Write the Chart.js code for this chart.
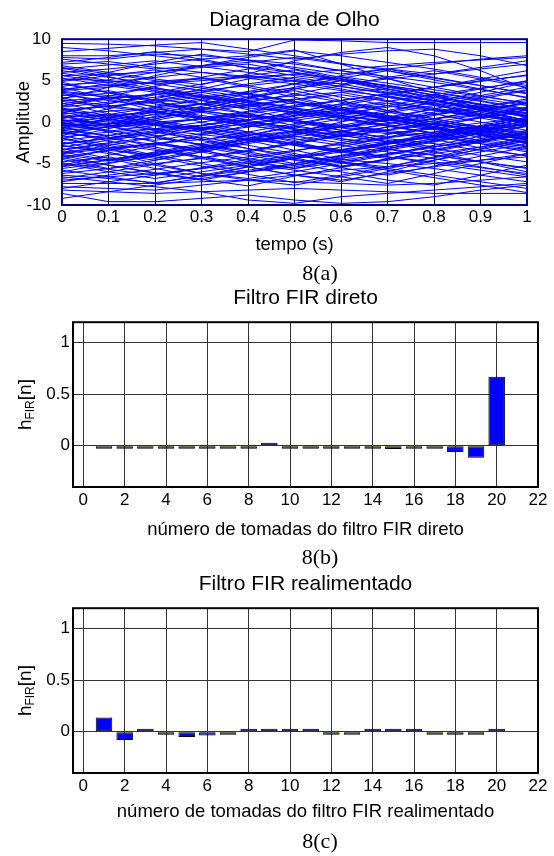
<!DOCTYPE html>
<html>
<head>
<meta charset="utf-8">
<script src="https://cdn.jsdelivr.net/npm/chart.js@4.4.0/dist/chart.umd.min.js"></script>
<style>
  body { margin: 0; background: #fff; }
  #pagina { position: relative; width: 554px; height: 856px; overflow: hidden; }
  canvas { position: absolute; left: 0; }
  .legenda {
    position: absolute; left: 320px; transform: translateX(-50%);
    font-family: 'Liberation Serif', 'Times New Roman', serif;
    font-size: 22px; line-height: 22px; color: #000; white-space: nowrap;
  }
</style>
</head>
<body>
<div id="pagina">
  <canvas id="gOlho" width="554" height="262" style="top:0px"></canvas>
  <canvas id="gDireto" width="554" height="268" style="top:280px"></canvas>
  <canvas id="gRealimentado" width="554" height="267" style="top:563px"></canvas>
  <div class="legenda" style="top:262px">8(a)</div>
  <div class="legenda" style="top:546px">8(b)</div>
  <div class="legenda" style="top:830px">8(c)</div>
</div>
<script>
// Dados do diagrama de olho (amostras em t = 0, 0.1, ..., 1)
const tempo = [0, 0.1, 0.2, 0.3, 0.4, 0.5, 0.6, 0.7, 0.8, 0.9, 1];
const tracosOlho = [
  [9.5, 9.4, 9.2, 8.8, 8.5, 9.9, 9.8, 9.6, 9.6, 9.6, 9.6],
  [7.8, 7.6, 8.2, 8.0, 7.5, 7.0, 6.2, 5.5, 4.8, 3.9, 3.0],
  [7.2, 7.8, 8.5, 7.6, 6.5, 5.6, 5.0, 4.2, 3.3, 2.5, 1.5],
  [6.8, 6.0, 5.2, 4.5, 5.8, 7.4, 8.4, 9.0, 8.0, 6.2, 4.0],
  [6.5, 5.5, 4.2, 3.0, 2.1, 1.2, 0.4, -0.5, -1.4, -2.2, -3.0],
  [6.0, 6.4, 7.0, 7.6, 8.0, 8.7, 7.0, 5.3, 3.5, 1.6, -0.2],
  [5.6, 4.8, 3.8, 2.6, 1.5, 0.3, -1.0, -2.4, -3.6, -4.8, -6.0],
  [5.2, 5.0, 4.6, 5.0, 5.4, 5.8, 6.3, 6.8, 7.2, 7.5, 7.8],
  [4.8, 3.5, 2.4, 1.6, 2.8, 4.0, 5.0, 4.4, 3.2, 2.0, 0.8],
  [4.5, 4.8, 5.4, 6.0, 5.5, 4.9, 4.0, 3.0, 2.1, 1.0, 0.0],
  [4.2, 2.8, 1.4, 0.0, -1.2, -2.4, -3.5, -4.2, -4.8, -5.5, -6.2],
  [3.8, 4.2, 4.9, 5.3, 4.2, 3.0, 1.8, 0.8, -0.3, -1.2, -2.0],
  [3.5, 2.2, 3.5, 4.6, 5.6, 6.3, 5.2, 4.0, 2.8, 1.4, 0.2],
  [3.2, 3.8, 2.6, 1.2, 0.2, -0.8, -1.8, -1.0, -0.2, 0.6, 1.2],
  [3.0, 1.5, 0.2, -1.0, -2.2, -3.4, -4.5, -5.0, -5.6, -6.4, -7.2],
  [2.6, 2.9, 3.3, 3.8, 4.4, 5.0, 4.3, 3.5, 2.6, 1.8, 1.0],
  [2.3, 1.0, -0.3, 0.4, 1.2, 2.0, 2.6, 3.4, 4.2, 5.0, 5.6],
  [2.0, 2.8, 3.4, 2.2, 1.0, 0.0, -1.0, -2.0, -2.6, -3.4, -4.0],
  [1.7, 0.8, 0.0, -0.8, -1.6, -0.6, 0.4, 1.4, 2.4, 3.2, 4.2],
  [1.5, 1.9, 2.4, 3.0, 3.6, 4.1, 3.0, 2.0, 1.0, 0.0, -1.0],
  [1.2, 0.2, -1.0, -2.2, -1.2, -0.2, 0.8, 0.0, -0.8, -1.4, -2.0],
  [1.0, 1.3, 1.7, 2.2, 2.6, 3.2, 3.6, 4.0, 3.0, 1.8, 0.6],
  [0.8, -0.4, -1.6, -2.8, -3.8, -4.6, -5.4, -4.6, -3.6, -2.4, -1.2],
  [0.6, 0.8, 1.2, 0.4, -0.4, -1.2, -2.0, -2.6, -1.8, -1.0, -0.3],
  [0.4, 1.6, 2.8, 4.0, 5.2, 5.8, 5.2, 4.4, 3.6, 2.6, 1.6],
  [0.2, 0.0, -0.4, -0.8, 0.2, 1.2, 2.2, 3.2, 2.2, 1.2, 0.2],
  [0.0, -1.2, -2.4, -3.4, -4.4, -5.2, -4.4, -3.4, -2.4, -1.4, -0.4],
  [-0.2, 0.6, 1.4, 2.2, 3.0, 3.8, 2.6, 1.4, 0.4, -0.6, -1.6],
  [-0.4, -0.2, 0.0, 0.4, 0.8, 0.2, -0.4, -1.0, -1.6, -2.4, -3.2],
  [-0.6, -1.8, -3.0, -4.2, -5.4, -6.4, -7.2, -6.0, -4.6, -3.2, -2.0],
  [-0.8, 0.2, 1.2, 0.4, -0.4, -1.2, -2.2, -3.2, -4.0, -4.8, -5.6],
  [-1.0, -0.6, -0.2, 0.4, 1.0, 1.8, 2.6, 3.4, 4.2, 5.2, 6.2],
  [-1.2, -2.0, -1.2, -0.4, 0.6, 1.6, 0.8, 0.0, -0.8, -1.6, -2.4],
  [-1.4, -0.6, 0.2, 1.2, 2.0, 2.8, 1.6, 0.4, 1.6, 2.8, 3.8],
  [-1.6, -2.8, -4.0, -5.0, -6.0, -5.2, -4.2, -3.2, -2.2, -1.2, -0.2],
  [-1.8, -1.2, -0.8, -0.4, -1.2, -2.0, -2.8, -3.6, -4.4, -5.4, -6.4],
  [-2.0, -3.2, -4.4, -3.4, -2.4, -1.4, -0.4, 0.6, 1.6, 0.8, 0.0],
  [-2.2, -1.6, -0.8, 0.0, 0.8, 0.2, -0.6, -1.2, -1.8, -2.6, -3.4],
  [-2.4, -3.6, -5.0, -6.2, -7.0, -7.6, -6.6, -5.6, -4.6, -3.6, -2.6],
  [-2.6, -2.0, -1.2, -2.2, -3.2, -4.0, -4.8, -5.4, -4.2, -3.0, -1.8],
  [-2.8, -3.8, -4.6, -3.6, -2.4, -1.2, 0.0, 1.2, 2.4, 3.6, 4.8],
  [-3.0, -2.2, -1.4, -0.6, -1.6, -2.6, -3.6, -2.6, -1.6, -0.6, 0.4],
  [-3.2, -4.4, -5.6, -6.6, -5.4, -4.2, -3.0, -1.8, -0.6, 0.6, 1.8],
  [-3.4, -2.6, -3.4, -4.2, -5.0, -5.8, -6.6, -7.4, -6.2, -5.0, -3.8],
  [-3.6, -4.6, -3.6, -2.6, -1.6, -0.4, 0.8, 2.0, 3.0, 4.0, 5.0],
  [-3.8, -3.2, -2.6, -3.6, -4.6, -5.6, -4.4, -3.2, -2.2, -1.2, -0.2],
  [-4.0, -5.2, -6.2, -7.0, -6.0, -5.0, -4.0, -3.0, -2.0, -1.0, 0.2],
  [-4.2, -3.4, -2.6, -1.8, -2.8, -3.8, -4.8, -5.6, -6.4, -7.2, -8.0],
  [-4.5, -5.6, -4.6, -3.6, -2.6, -1.6, -0.6, 0.4, -0.6, -1.6, -2.6],
  [-4.8, -4.2, -5.2, -6.2, -6.8, -6.0, -5.0, -4.0, -3.0, -2.2, -1.4],
  [-5.0, -6.0, -6.8, -6.0, -5.2, -4.4, -3.6, -2.6, -1.6, -2.6, -3.6],
  [-5.4, -4.6, -3.8, -3.0, -4.0, -5.0, -6.0, -7.0, -7.6, -6.4, -5.2],
  [-5.8, -6.6, -7.4, -6.4, -5.4, -4.4, -3.4, -2.4, -1.4, -0.4, 0.6],
  [-6.2, -5.6, -5.0, -4.4, -5.4, -6.4, -7.0, -6.2, -5.4, -4.6, -3.8],
  [-6.6, -7.2, -7.8, -8.4, -9.4, -9.8, -9.0, -8.6, -8.2, -7.8, -7.4],
  [-7.0, -6.6, -6.2, -5.6, -5.0, -4.2, -3.4, -2.6, -1.8, -1.0, -0.2],
  [-7.4, -7.4, -7.4, -7.2, -7.0, -7.2, -7.4, -7.6, -7.4, -7.0, -6.6],
  [-7.8, -8.0, -8.2, -7.6, -7.0, -6.4, -5.8, -5.4, -5.0, -4.6, -4.2],
  [-8.2, -8.4, -8.6, -8.4, -8.2, -8.0, -8.2, -8.4, -8.6, -8.6, -8.6],
  [-8.6, -9.6, -9.6, -9.2, -8.8, -9.4, -9.8, -9.6, -9.0, -8.2, -7.6],
  [7.6, 7.0, 6.4, 6.8, 7.2, 7.8, 7.0, 6.4, 5.8, 6.6, 7.4],
  [8.0, 8.0, 8.4, 8.8, 8.2, 7.6, 8.2, 8.6, 8.8, 8.0, 6.8],
  [5.0, 6.0, 7.2, 8.2, 7.4, 6.6, 5.8, 6.4, 7.0, 7.6, 8.0],
  [4.0, 4.4, 4.8, 5.2, 5.6, 5.0, 4.6, 5.2, 5.8, 6.4, 7.0],
  [2.8, 4.2, 5.6, 6.8, 7.8, 8.6, 8.0, 7.2, 6.4, 5.4, 4.4],
  [-0.3, -0.5, 0.4, 1.4, 2.4, 3.4, 4.4, 5.4, 6.2, 5.2, 4.2],
  [-1.4, -0.2, 1.0, 2.2, 3.4, 4.6, 5.6, 6.4, 5.4, 4.4, 3.4],
  [1.4, 0.6, -0.2, -1.0, -1.8, -2.6, -3.4, -4.2, -5.0, -5.8, -6.6],
  [-2.0, -0.8, 0.4, 1.6, 2.8, 4.0, 5.0, 3.8, 2.6, 1.4, 0.2],
  [0.0, 0.6, 1.2, 1.8, 1.0, 0.2, -0.6, 0.2, 1.0, 1.8, 2.6],
  [3.6, 3.0, 2.2, 1.4, 0.6, -0.4, -1.4, -2.2, -3.0, -2.0, -1.0],
  [-3.8, -2.8, -1.8, -0.8, 0.2, 1.2, 2.2, 1.2, 0.2, -0.8, -1.8],
  [6.2, 5.4, 4.6, 3.8, 3.0, 2.2, 1.4, 0.6, -0.2, -1.0, -1.8],
  [-5.2, -4.0, -2.8, -1.6, -0.4, 0.8, 2.0, 3.0, 2.0, 1.0, 0.0],
  [2.2, 3.0, 1.8, 0.6, -0.6, 0.4, 1.4, 0.4, -0.6, -1.6, -2.6],
  [-1.0, -1.6, -2.2, -1.4, -0.6, 0.2, 1.0, 1.8, 2.6, 1.6, 0.6],
  [5.6, 5.8, 6.0, 6.6, 7.0, 6.0, 5.0, 4.0, 3.0, 2.2, 1.4],
  [-6.0, -5.0, -4.0, -3.0, -2.0, -1.0, -2.0, -3.0, -2.0, -1.0, 0.2],
  [1.8, 2.4, 3.0, 3.6, 2.6, 1.6, 0.6, -0.4, -1.4, -0.6, 0.4],
  [-0.6, 0.4, -0.4, -1.2, -2.0, -2.8, -3.6, -4.4, -3.4, -2.4, -1.4],
  [9.0, 8.6, 8.0, 7.4, 6.6, 6.0, 5.2, 4.4, 3.6, 2.8, 2.0],
  [-9.2, -8.4, -7.6, -6.8, -6.0, -5.4, -4.6, -3.8, -3.0, -2.2, -1.4],
  [0.5, 1.0, 0.2, -0.6, -1.4, -2.2, -1.2, -0.2, 0.8, 1.8, 2.8],
  [-0.3, -1.1, -0.4, 0.5, 1.3, 2.4, 1.5, 0.3, -0.7, -1.9, -2.9],
  [2.5, 1.8, 1.2, 0.6, 0.0, -0.6, -1.2, -1.8, -1.2, -0.6, 0.0],
  [-2.7, -1.9, -1.0, -0.4, 0.3, 0.8, 1.5, 2.0, 1.4, 0.7, -0.1],
  [4.6, 3.6, 2.6, 3.6, 4.6, 5.4, 4.6, 3.6, 2.6, 1.6, 0.6],
  [-4.4, -3.4, -2.5, -3.3, -4.8, -5.6, -4.8, -3.9, -2.8, -1.7, -0.5],
  [1.1, 2.2, 3.3, 4.3, 3.4, 2.5, 1.6, 0.7, -0.3, -1.2, -2.2],
  [-1.1, -2.3, -3.2, -4.4, -3.5, -2.4, -1.5, -0.6, 0.4, 1.3, 2.3],
  [3.9, 4.6, 3.8, 3.0, 2.4, 1.7, 1.0, 0.4, 0.9, 1.6, 2.2],
  [-3.9, -4.7, -3.9, -3.1, -2.2, -1.8, -1.1, -0.3, -0.9, -1.5, -2.1],
  [5.9, 5.0, 4.0, 3.1, 2.0, 1.0, 0.1, 1.1, 2.0, 3.0, 3.9],
  [-5.6, -4.9, -4.1, -3.0, -2.1, -1.1, -0.2, -1.2, -2.1, -3.1, -4.1],
  [0.9, 0.3, -0.3, -0.9, -0.2, 0.5, 1.2, 0.6, 0.0, -0.6, -1.2],
  [-0.9, -0.2, 0.6, 1.3, 0.7, 0.0, -0.7, -1.4, -0.8, -0.1, 0.5],
  [7.0, 7.3, 6.6, 6.0, 5.3, 4.6, 3.8, 3.1, 2.3, 1.5, 0.8],
  [-7.2, -6.4, -5.7, -4.9, -4.2, -3.4, -2.7, -1.9, -1.2, -0.5, 0.3],
  [2.9, 3.5, 4.1, 3.3, 2.5, 1.8, 2.6, 3.4, 4.2, 4.9, 5.7],
  [-2.9, -3.4, -4.0, -3.2, -2.4, -1.7, -2.5, -3.3, -4.0, -4.8, -5.5],
  [1.6, 0.4, -0.8, -2.0, -3.2, -4.3, -5.5, -6.4, -5.3, -4.1, -3.0],
  [-1.6, -0.5, 0.7, 1.9, 3.0, 4.2, 5.3, 6.2, 5.1, 4.0, 2.9],
  [4.3, 5.1, 6.0, 6.8, 7.5, 6.4, 5.4, 4.3, 3.2, 2.1, 1.1],
  [-4.3, -5.2, -6.1, -6.9, -7.7, -6.5, -5.5, -4.4, -3.3, -2.3, -1.2],
  [0.1, 0.9, 1.8, 2.6, 3.5, 2.5, 1.5, 0.5, -0.5, -1.5, -2.5],
  [-0.1, -1.0, -1.9, -2.7, -3.6, -2.6, -1.6, -0.6, 0.4, 1.4, 2.4],
  [6.4, 6.9, 7.4, 6.7, 6.0, 5.2, 4.3, 3.4, 2.5, 1.6, 0.7],
  [-6.4, -6.8, -7.3, -6.5, -5.8, -5.0, -4.1, -3.2, -2.3, -1.4, -0.5],
  [3.3, 2.6, 1.9, 2.8, 3.7, 4.6, 5.5, 4.7, 3.9, 3.1, 2.3],
  [-3.3, -2.5, -1.8, -2.7, -3.6, -4.5, -5.3, -4.5, -3.8, -3.0, -2.2],
  [8.5, 8.9, 9.3, 9.6, 8.8, 8.0, 7.1, 6.2, 5.3, 4.4, 3.5],
  [-8.0, -7.2, -6.4, -5.6, -4.8, -4.0, -4.9, -5.8, -6.7, -7.6, -8.5],
  [1.3, 1.9, 2.6, 3.2, 2.3, 1.4, 0.5, -0.4, -1.3, -2.2, -1.5],
  [-1.3, -2.0, -2.7, -3.3, -2.4, -1.5, -0.6, 0.3, 1.2, 2.1, 1.4],
  [5.3, 4.4, 3.6, 2.7, 1.8, 2.7, 3.6, 2.6, 1.5, 0.5, -0.5],
  [-5.3, -4.5, -3.7, -2.8, -1.9, -2.8, -3.7, -2.7, -1.6, -0.6, 0.4],
  [0.7, -0.5, -1.7, -0.9, -0.1, 0.7, 1.5, 2.3, 1.5, 0.7, -0.1],
  [-0.7, 0.4, 1.6, 0.8, 0.0, -0.8, -1.6, -2.4, -1.6, -0.8, 0.1],
  [2.7, 2.0, 1.3, 0.5, -0.2, -0.9, -1.6, -2.4, -3.2, -4.0, -4.8],
  [-2.6, -1.9, -1.2, -0.4, 0.3, 1.0, 1.7, 2.5, 3.3, 4.1, 4.9],
  [4.9, 5.6, 6.3, 5.4, 4.4, 3.4, 2.4, 1.4, 0.4, -0.6, -1.6],
  [-4.9, -5.7, -6.4, -5.5, -4.5, -3.5, -2.5, -1.5, -0.5, 0.5, 1.5],
  [0.3, -0.3, -0.9, -1.5, -2.1, -2.7, -3.3, -2.5, -1.7, -0.9, -0.1],
  [-0.3, 0.3, 0.9, 1.5, 2.1, 2.7, 3.3, 2.5, 1.7, 0.9, 0.1],
  [6.6, 5.8, 5.0, 4.1, 3.3, 2.4, 1.6, 0.8, 0.0, 0.9, 1.8],
  [-6.8, -6.0, -5.1, -4.3, -3.4, -2.6, -1.7, -0.9, -0.1, -1.0, -1.9],
  [3.7, 3.2, 2.7, 2.2, 1.7, 1.2, 0.7, 0.2, -0.3, -0.8, -1.3],
  [-3.6, -3.1, -2.6, -2.1, -1.6, -1.1, -0.6, -0.1, 0.4, 0.9, 1.4],
  [1.9, 3.1, 4.3, 5.4, 6.4, 7.2, 6.2, 5.2, 4.2, 3.2, 2.2],
  [-1.9, -3.0, -4.2, -5.3, -6.3, -7.3, -6.4, -5.4, -4.3, -3.3, -2.3]
];

// Coeficientes dos filtros FIR
const tomadas = [1, 2, 3, 4, 5, 6, 7, 8, 9, 10, 11, 12, 13, 14, 15, 16, 17, 18, 19, 20];
const hDireto = [-0.01, -0.005, -0.005, -0.005, -0.005, -0.01, -0.005, -0.005, 0.025, -0.02,
                 -0.01, -0.01, -0.005, -0.01, -0.03, -0.02, -0.01, -0.06, -0.115, 0.67];
const hRealimentado = [0.14, -0.08, 0.015, -0.025, -0.05, -0.035, -0.025, 0.025, 0.003, 0.003,
                       0.003, -0.005, -0.005, 0.01, 0.01, 0.01, -0.006, -0.006, -0.006, 0.003];

Chart.defaults.font.family = "'Liberation Sans', Arial, sans-serif";
Chart.defaults.color = '#000';

// moldura em volta da area do grafico (estilo MATLAB)
const moldura = {
  id: 'moldura',
  afterDraw(chart, args, opts) {
    const ctx = chart.ctx;
    const a = chart.chartArea;
    ctx.save();
    ctx.strokeStyle = opts.cor || '#000';
    ctx.lineWidth = opts.largura || 2;
    ctx.strokeRect(a.left, a.top, a.right - a.left, a.bottom - a.top);
    ctx.restore();
  }
};
Chart.register(moldura);

// rotulo h_FIR[n] com subscrito
const rotuloH = {
  id: 'rotuloH',
  afterDraw(chart) {
    const ctx = chart.ctx;
    const a = chart.chartArea;
    ctx.save();
    ctx.translate(26, (a.top + a.bottom) / 2);
    ctx.rotate(-Math.PI / 2);
    ctx.fillStyle = '#000';
    ctx.textBaseline = 'middle';
    const fGrande = "19px 'Liberation Sans', Arial, sans-serif";
    const fPequena = "12px 'Liberation Sans', Arial, sans-serif";
    ctx.font = fGrande;
    const w1 = ctx.measureText('h').width;
    const w3 = ctx.measureText('[n]').width;
    ctx.font = fPequena;
    const w2 = ctx.measureText('FIR').width;
    let x = -(w1 + w2 + w3) / 2;
    ctx.font = fGrande;
    ctx.fillText('h', x, 0);
    x += w1;
    ctx.font = fPequena;
    ctx.fillText('FIR', x, 5);
    x += w2;
    ctx.font = fGrande;
    ctx.fillText('[n]', x, 0);
    ctx.restore();
  }
};

function formatoTick(v) {
  return String(+Number(v).toFixed(2));
}

// Grafico 1 - Diagrama de Olho
const datasetsOlho = tracosOlho.map(function (v) {
  return {
    data: v.map((y, i) => ({ x: tempo[i], y: y })),
    borderColor: '#0000ff',
    borderWidth: 1,
    pointRadius: 0,
    tension: 0,
    fill: false
  };
});

new Chart(document.getElementById('gOlho').getContext('2d'), {
  type: 'line',
  data: { datasets: datasetsOlho },
  options: {
    responsive: false,
    animation: false,
    layout: { padding: { left: 0, right: 27, top: 0, bottom: 0 } },
    plugins: {
      legend: { display: false },
      tooltip: { enabled: false },
      title: {
        display: true,
        fullSize: false,
        text: 'Diagrama de Olho',
        font: { size: 21, weight: 'normal' },
        padding: { top: 8, bottom: 6 }
      },
      moldura: { cor: '#000080', largura: 2 }
    },
    scales: {
      x: {
        type: 'linear',
        min: 0, max: 1,
        z: 1,
        ticks: { stepSize: 0.1, font: { size: 17 }, padding: 2, callback: formatoTick, autoSkip: false, maxRotation: 0 },
        grid: { color: '#000', lineWidth: 1, drawTicks: false },
        border: { display: false },
        title: { display: true, text: 'tempo (s)', font: { size: 18.5 }, padding: { top: 0, bottom: 6 } },
        afterFit: function (s) { s.height = 57; }
      },
      y: {
        min: -10, max: 10,
        ticks: { stepSize: 5, font: { size: 17 }, padding: 3, callback: formatoTick },
        grid: { display: false },
        border: { display: false },
        title: { display: true, text: 'Amplitude', font: { size: 18.5 }, padding: { top: 13, bottom: 0 } },
        afterFit: function (s) { s.width = 62; }
      }
    }
  }
});

// Graficos 2 e 3 - coeficientes dos filtros
function criarGraficoFIR(idCanvas, titulo, valores, rotuloX, padTitulo, alturaX, padRotuloX) {
  const ctx = document.getElementById(idCanvas).getContext('2d');
  return new Chart(ctx, {
    type: 'bar',
    data: {
      datasets: [{
        data: tomadas.map((n, i) => ({ x: n, y: valores[i] })),
        backgroundColor: '#0000ff',
        borderColor: '#000',
        borderWidth: 1,
        borderSkipped: false,
        barPercentage: 0.8,
        categoryPercentage: 1.0,
        minBarLength: 3
      }]
    },
    options: {
      responsive: false,
      animation: false,
      layout: { padding: { left: 0, right: 16, top: 0, bottom: 0 } },
      plugins: {
        legend: { display: false },
        tooltip: { enabled: false },
        title: {
          display: true,
          fullSize: false,
          text: titulo,
          font: { size: 21, weight: 'normal' },
          padding: padTitulo
        },
        moldura: { cor: '#000', largura: 2 }
      },
      scales: {
        x: {
          type: 'linear',
          min: -0.5, max: 22,
          offset: false,
          ticks: { stepSize: 2, includeBounds: false, font: { size: 17 }, padding: 3, autoSkip: false, maxRotation: 0 },
          grid: { color: '#333', lineWidth: 1, drawTicks: false, offset: false },
          border: { display: false },
          title: { display: true, text: rotuloX, font: { size: 18.5 }, padding: { top: 0, bottom: padRotuloX } },
          afterFit: function (s) { s.height = alturaX; }
        },
        y: {
          min: -0.4, max: 1.2,
          ticks: { stepSize: 0.5, includeBounds: false, font: { size: 17 }, padding: 3, callback: formatoTick },
          grid: { color: '#333', lineWidth: 1, drawTicks: false },
          border: { display: false },
          afterFit: function (s) { s.width = 73; }
        }
      }
    },
    plugins: [rotuloH]
  });
}

criarGraficoFIR('gDireto', 'Filtro FIR direto', hDireto,
  'número de tomadas do filtro FIR direto', { top: 6, bottom: 11 }, 61, 7);
criarGraficoFIR('gRealimentado', 'Filtro FIR realimentado', hRealimentado,
  'número de tomadas do filtro FIR realimentado', { top: 9, bottom: 11 }, 57, 7);
</script>
</body>
</html>
